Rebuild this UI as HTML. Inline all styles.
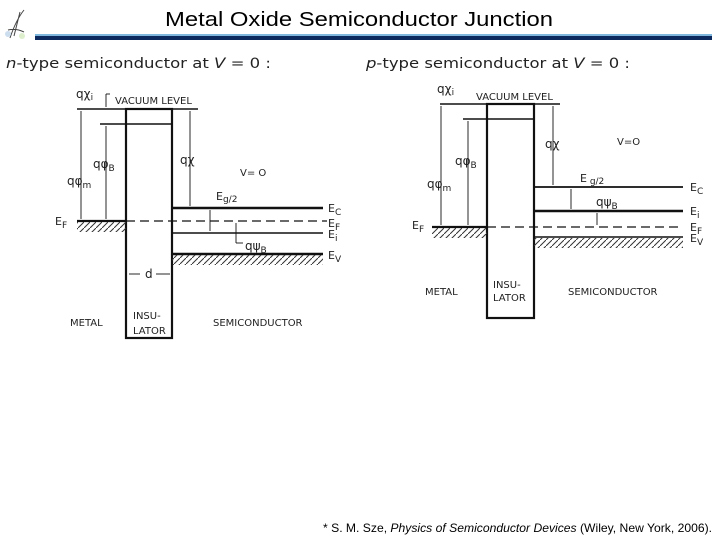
<!DOCTYPE html>
<html><head><meta charset="utf-8"><style>
html,body{margin:0;padding:0;background:#fff;width:720px;height:540px;overflow:hidden}
svg{display:block}
.d{font-family:"DejaVu Sans","Liberation Sans",sans-serif;font-size:10px;fill:#222}
</style></head><body>
<svg width="720" height="540" viewBox="0 0 720 540" xmlns="http://www.w3.org/2000/svg">
<defs>
<pattern id="h" width="6" height="6" patternUnits="userSpaceOnUse">
<line x1="0" y1="6" x2="6" y2="0" stroke="#333" stroke-width="1"/>
</pattern>
</defs>
<text x="359" y="26" text-anchor="middle" font-family="Liberation Sans,sans-serif" font-size="20" fill="#000" textLength="388" lengthAdjust="spacingAndGlyphs">Metal Oxide Semiconductor Junction</text>
<rect x="35" y="34" width="677" height="2" fill="#7fb8dc"/>
<rect x="35" y="36" width="677" height="4" fill="#0d2a5e"/>
<path d="M10 38 Q16 20 24 10 M14 36 L20 12 M8 30 Q16 28 24 32" stroke="#444" stroke-width="1" fill="none"/>
<circle cx="8" cy="34" r="3" fill="#cde"/><circle cx="22" cy="36" r="3" fill="#dec"/>
<text x="6" y="68" font-family="DejaVu Sans,sans-serif" font-size="14" fill="#222" textLength="265" lengthAdjust="spacingAndGlyphs"><tspan font-style="italic">n</tspan>-type semiconductor at <tspan font-style="italic">V</tspan> = 0 :</text>
<text x="366" y="68" font-family="DejaVu Sans,sans-serif" font-size="14" fill="#222" textLength="264" lengthAdjust="spacingAndGlyphs"><tspan font-style="italic">p</tspan>-type semiconductor at <tspan font-style="italic">V</tspan> = 0 :</text>

<g stroke="#111" fill="none">
<line x1="77" y1="109" x2="198" y2="109" stroke-width="1.4"/>
<rect x="126" y="109" width="46" height="229" stroke-width="2.2"/>
<line x1="100" y1="124" x2="172" y2="124" stroke-width="1.4"/>
<line x1="77" y1="221" x2="126" y2="221" stroke-width="2.2"/>
<line x1="126" y1="221" x2="327" y2="221" stroke-width="1.2" stroke-dasharray="9,5"/>
<line x1="172" y1="208" x2="323" y2="208" stroke-width="2.4"/>
<line x1="172" y1="233" x2="323" y2="233" stroke-width="1.4"/>
<line x1="172" y1="254" x2="323" y2="254" stroke-width="2.4"/>
<line x1="81" y1="111" x2="81" y2="219" stroke-width="0.9"/>
<line x1="106" y1="126" x2="106" y2="219" stroke-width="0.9"/>
<line x1="190" y1="111" x2="190" y2="206" stroke-width="0.9"/>
<line x1="210" y1="210" x2="210" y2="231" stroke-width="0.9"/>
<line x1="236" y1="223" x2="236" y2="243" stroke-width="0.9"/>
<line x1="236" y1="243" x2="243" y2="243" stroke-width="0.9"/>
<line x1="110" y1="94" x2="106" y2="94" stroke-width="0.9"/>
<line x1="106" y1="94" x2="106" y2="107" stroke-width="0.9"/>
<line x1="129" y1="274" x2="140" y2="274" stroke-width="0.9"/>
<line x1="156" y1="274" x2="170" y2="274" stroke-width="0.9"/>
</g>
<rect x="77" y="222" width="49" height="10" fill="url(#h)"/>
<rect x="172" y="255" width="151" height="10" fill="url(#h)"/>
<g class="d">
<text x="76" y="98" font-size="12">qχ<tspan font-size="9" dy="2">i</tspan></text>
<text x="115" y="104">VACUUM  LEVEL</text>
<text x="93" y="168" font-size="12">qφ<tspan font-size="9" dy="3">B</tspan></text>
<text x="67" y="185" font-size="12">qφ<tspan font-size="9" dy="3">m</tspan></text>
<text x="180" y="164" font-size="12">qχ</text>
<text x="240" y="176">V= O</text>
<text x="216" y="200" font-size="11">E<tspan font-size="9" dy="2">g/2</tspan></text>
<text x="328" y="212" font-size="11">E<tspan font-size="9" dy="3">C</tspan></text>
<text x="328" y="227" font-size="11">E<tspan font-size="9" dy="3">F</tspan></text>
<text x="328" y="238" font-size="11">E<tspan font-size="9" dy="3">i</tspan></text>
<text x="245" y="250" font-size="12">qψ<tspan font-size="9" dy="3">B</tspan></text>
<text x="328" y="259" font-size="11">E<tspan font-size="9" dy="3">V</tspan></text>
<text x="55" y="225" font-size="11">E<tspan font-size="9" dy="3">F</tspan></text>
<text x="145" y="278" font-size="12">d</text>
<text x="70" y="326">METAL</text>
<text x="133" y="319">INSU-</text>
<text x="133" y="334">LATOR</text>
<text x="213" y="326">SEMICONDUCTOR</text>
</g>

<g stroke="#111" fill="none">
<line x1="440" y1="104" x2="560" y2="104" stroke-width="1.4"/>
<rect x="487" y="104" width="47" height="214" stroke-width="2.2"/>
<line x1="463" y1="119" x2="534" y2="119" stroke-width="1.4"/>
<line x1="432" y1="227" x2="487" y2="227" stroke-width="2.2"/>
<line x1="487" y1="227" x2="683" y2="227" stroke-width="1.2" stroke-dasharray="9,5"/>
<line x1="534" y1="187" x2="683" y2="187" stroke-width="1.8"/>
<line x1="534" y1="211" x2="683" y2="211" stroke-width="2.6"/>
<line x1="534" y1="237" x2="683" y2="237" stroke-width="1.4"/>
<line x1="441" y1="106" x2="441" y2="225" stroke-width="0.9"/>
<line x1="468" y1="121" x2="468" y2="225" stroke-width="0.9"/>
<line x1="553" y1="106" x2="553" y2="185" stroke-width="0.9"/>
<line x1="571" y1="189" x2="571" y2="209" stroke-width="0.9"/>
<line x1="597" y1="213" x2="597" y2="225" stroke-width="0.9"/>
</g>
<rect x="432" y="228" width="55" height="10" fill="url(#h)"/>
<rect x="534" y="238" width="149" height="10" fill="url(#h)"/>
<g class="d">
<text x="437" y="93" font-size="12">qχ<tspan font-size="9" dy="2">i</tspan></text>
<text x="476" y="100">VACUUM  LEVEL</text>
<text x="455" y="165" font-size="12">qφ<tspan font-size="9" dy="3">B</tspan></text>
<text x="427" y="188" font-size="12">qφ<tspan font-size="9" dy="3">m</tspan></text>
<text x="545" y="148" font-size="12">qχ</text>
<text x="617" y="145">V=O</text>
<text x="580" y="182" font-size="11">E<tspan font-size="9" dy="2"> g/2</tspan></text>
<text x="596" y="206" font-size="12">qψ<tspan font-size="9" dy="3">B</tspan></text>
<text x="690" y="191" font-size="11">E<tspan font-size="9" dy="3">C</tspan></text>
<text x="690" y="215" font-size="11">E<tspan font-size="9" dy="3">i</tspan></text>
<text x="690" y="231" font-size="11">E<tspan font-size="9" dy="3">F</tspan></text>
<text x="690" y="242" font-size="11">E<tspan font-size="9" dy="3">V</tspan></text>
<text x="412" y="229" font-size="11">E<tspan font-size="9" dy="3">F</tspan></text>
<text x="425" y="295">METAL</text>
<text x="493" y="288">INSU-</text>
<text x="493" y="301">LATOR</text>
<text x="568" y="295">SEMICONDUCTOR</text>
</g>

<text x="323" y="532" font-family="Liberation Sans,sans-serif" font-size="12" fill="#000" textLength="389" lengthAdjust="spacingAndGlyphs">* S. M. Sze, <tspan font-style="italic">Physics of Semiconductor Devices</tspan> (Wiley, New York, 2006).</text>
</svg>
</body></html>
